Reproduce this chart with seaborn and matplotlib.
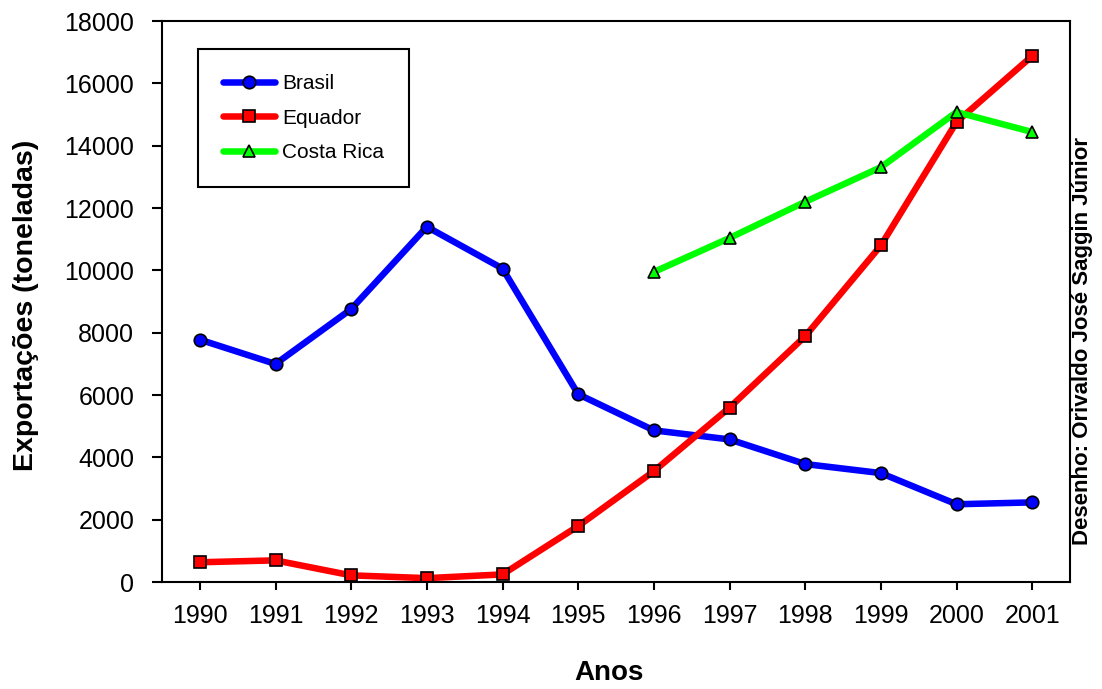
import matplotlib
matplotlib.use("Agg")
import matplotlib.pyplot as plt
import seaborn as sns
import pandas as pd

# Exportações por país (toneladas)
anos = [1990, 1991, 1992, 1993, 1994, 1995, 1996, 1997, 1998, 1999, 2000, 2001]
brasil = [7780, 7000, 8760, 11400, 10060, 6030, 4870, 4580, 3790, 3500, 2500, 2560]
equador = [640, 700, 220, 130, 250, 1800, 3560, 5600, 7890, 10800, 14760, 16880]
anos_costa_rica = [1996, 1997, 1998, 1999, 2000, 2001]
costa_rica = [9950, 11040, 12200, 13310, 15080, 14440]

paises = ["Brasil", "Equador", "Costa Rica"]
cores = {"Brasil": "#0000ff", "Equador": "#ff0000", "Costa Rica": "#00ff00"}
marcadores = {"Brasil": "o", "Equador": "s", "Costa Rica": "^"}

df = pd.concat([
    pd.DataFrame({"ano": anos, "valor": brasil, "pais": "Brasil"}),
    pd.DataFrame({"ano": anos, "valor": equador, "pais": "Equador"}),
    pd.DataFrame({"ano": anos_costa_rica, "valor": costa_rica, "pais": "Costa Rica"}),
], ignore_index=True)

sns.set_style("ticks")
plt.rcParams["font.family"] = ["Liberation Sans", "DejaVu Sans"]
plt.rcParams["text.color"] = "black"
plt.rcParams["axes.labelcolor"] = "black"

fig = plt.figure(figsize=(11.02, 6.89), dpi=100)
ax = fig.add_axes([0.147, 0.155, 0.824, 0.8145])

sns.lineplot(
    data=df, x="ano", y="valor", hue="pais", style="pais",
    hue_order=paises, style_order=paises, palette=cores,
    markers=marcadores, dashes=False, linewidth=4.7, markersize=9,
    markeredgecolor="black", markeredgewidth=1.2, ax=ax,
)

ax.set_xlim(1989.5, 2001.5)
ax.set_ylim(0, 18000)
ax.set_xticks(anos)
ax.set_xticklabels([str(a) for a in anos])
ax.set_yticks(range(0, 18001, 2000))

for side in ["left", "right", "top", "bottom"]:
    ax.spines[side].set_visible(True)
    ax.spines[side].set_color("black")
    ax.spines[side].set_linewidth(1.5)

ax.tick_params(axis="y", direction="out", length=7, width=1.5, pad=13,
               labelsize=18, colors="black")
ax.tick_params(axis="x", direction="out", length=6, width=1.5, pad=10,
               labelsize=18, colors="black")

ax.set_xlabel("")
ax.set_ylabel("")
fig.text(0.024, 0.5575, "Exportações (toneladas)", rotation=90,
         ha="center", va="center", fontsize=20.5, fontweight="bold",
         color="black")
fig.text(0.553, 0.023, "Anos", ha="center", va="center",
         fontsize=20, fontweight="bold", color="black")
fig.text(0.982, 0.505, "Desenho: Orivaldo José Saggin Júnior", rotation=90,
         ha="center", va="center", fontsize=16, fontweight="bold",
         color="black")

leg = ax.legend(
    loc="upper left", bbox_to_anchor=(0.0396, 0.950), borderaxespad=0,
    fontsize=15, frameon=True, fancybox=False, handlelength=2.5,
    labelspacing=0.75, borderpad=1.2, handletextpad=0.35,
)
for t in leg.get_texts():
    t.set_color("black")
frame = leg.get_frame()
frame.set_edgecolor("black")
frame.set_linewidth(1.5)
frame.set_facecolor("white")
frame.set_alpha(1)

fig.savefig("out.png", dpi=100, facecolor="white")
